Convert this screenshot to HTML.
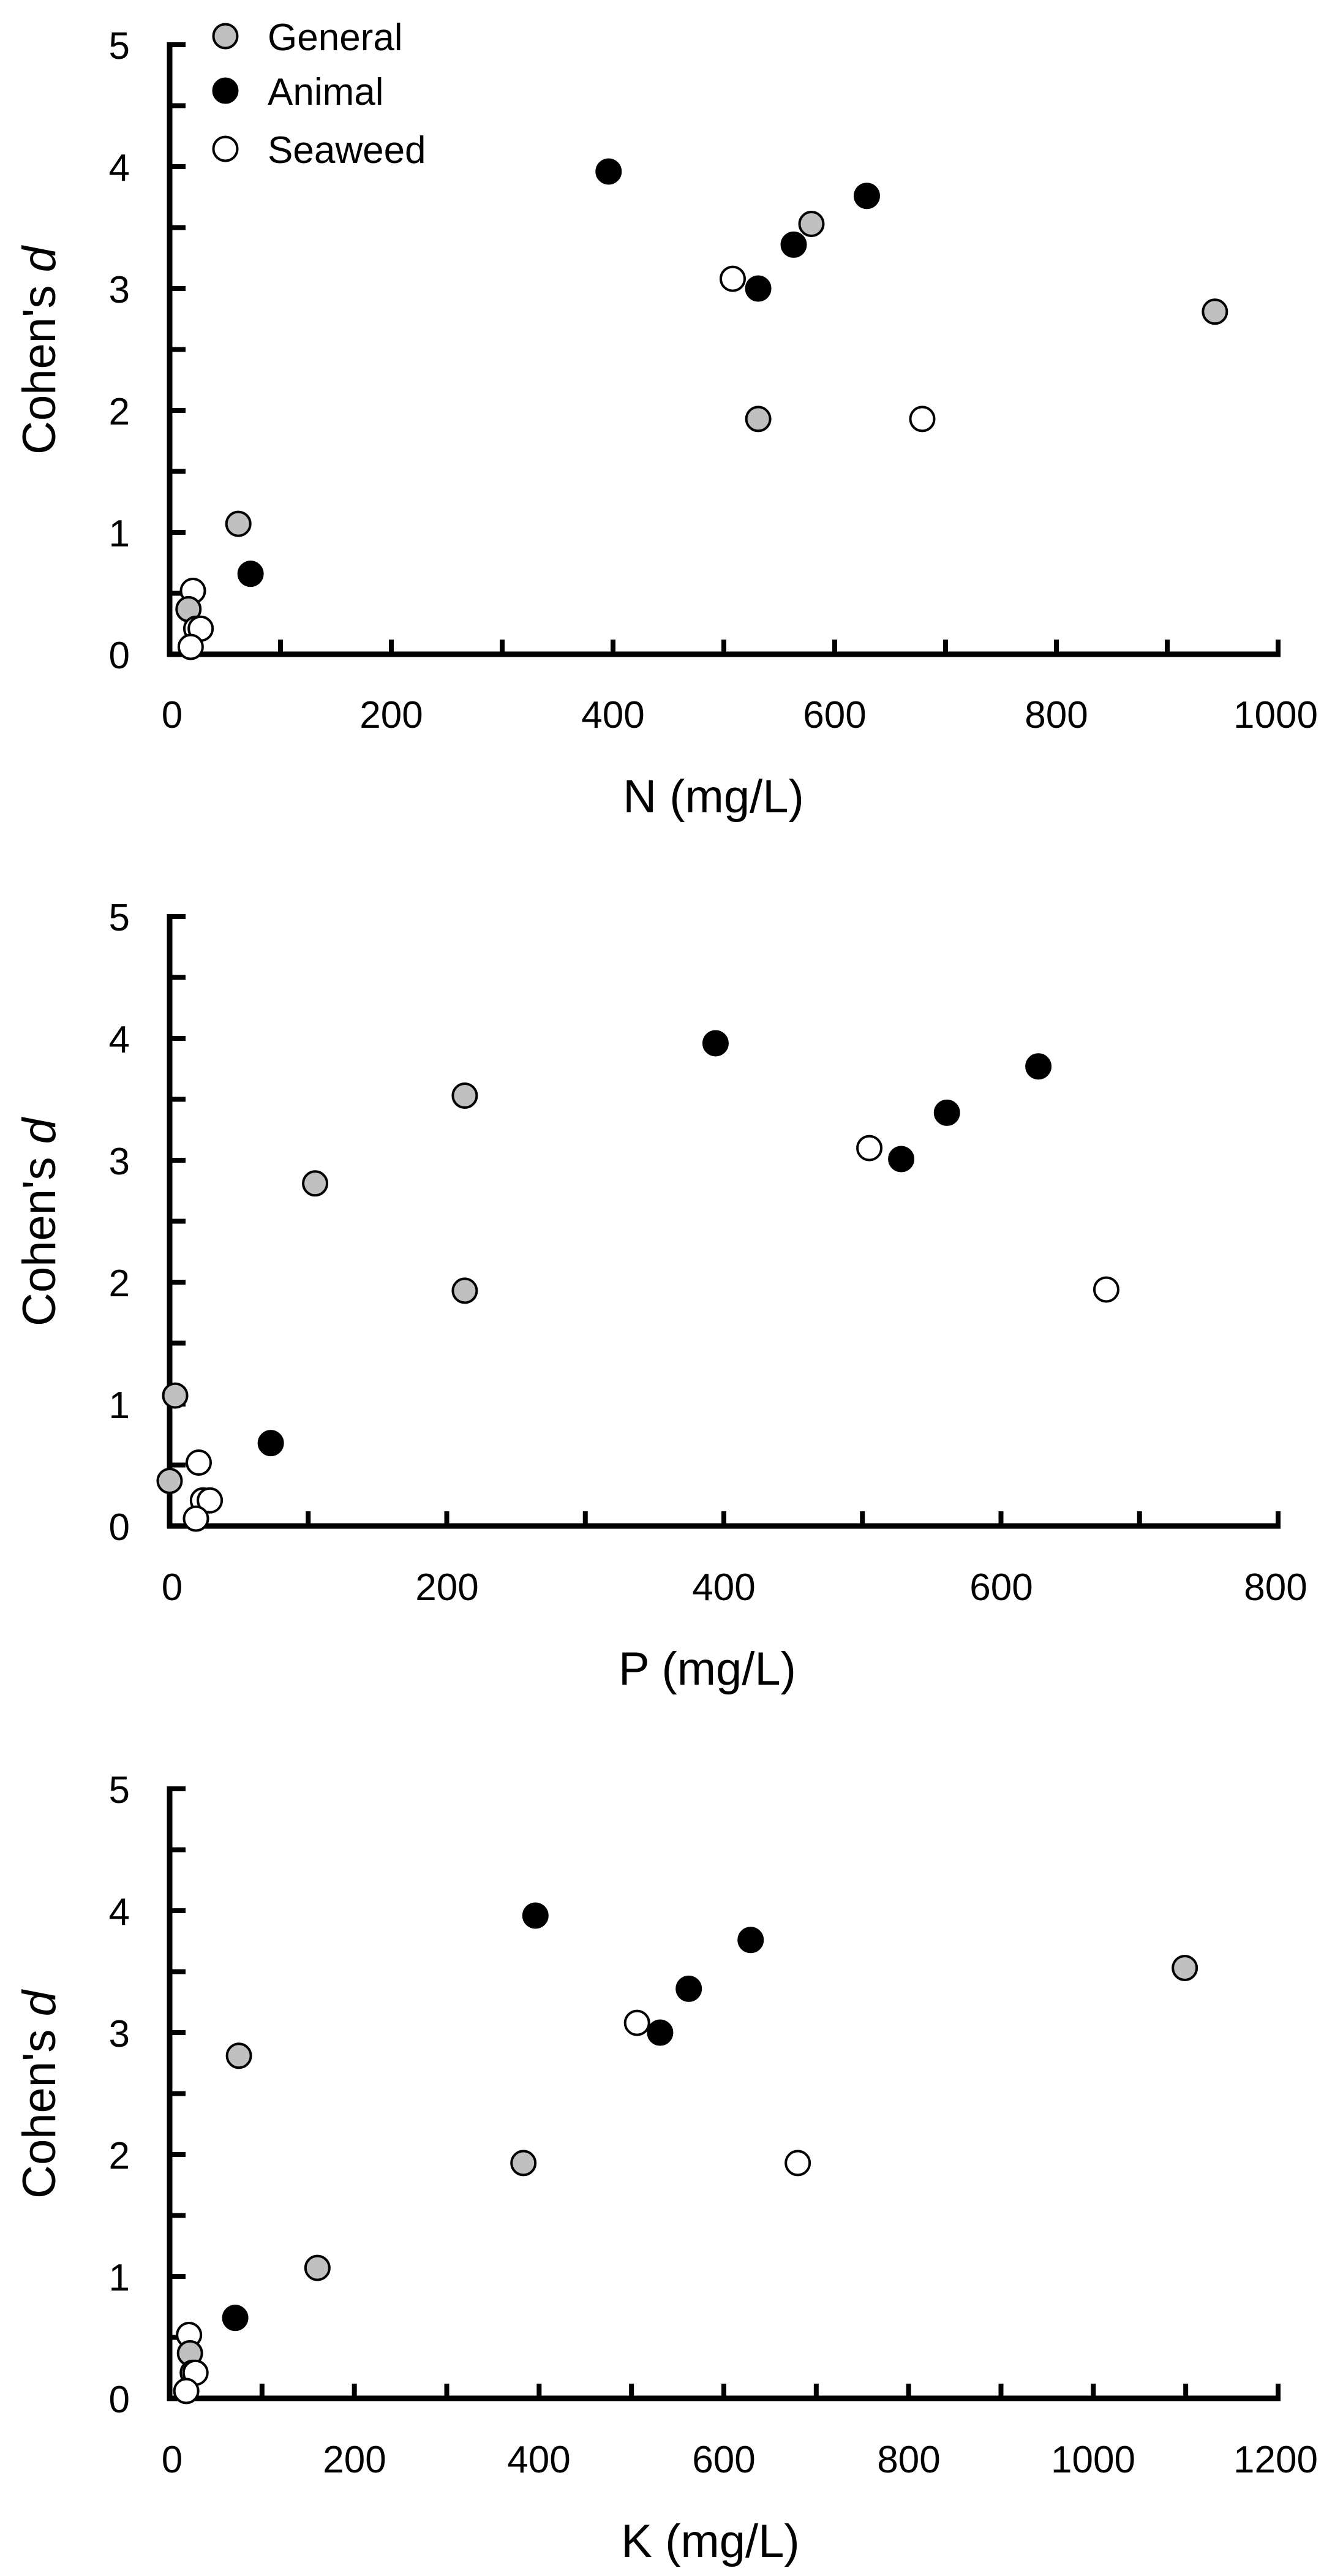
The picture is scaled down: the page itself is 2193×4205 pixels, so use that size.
<!DOCTYPE html>
<html><head><meta charset="utf-8"><style>
html,body{margin:0;padding:0;background:#fff;}
svg{display:block;}
text{font-family:"Liberation Sans",sans-serif;fill:#000;}
.t{font-size:62px;}
.a{font-size:76px;}
</style></head><body>
<svg id="s" width="2193" height="4205" viewBox="0 0 2193 4205" xmlns="http://www.w3.org/2000/svg">
<rect width="2193" height="4205" fill="#fff"/>
<g id="g"></g>
<g class="t" text-anchor="end">
<text x="212" y="96">5</text><text x="212" y="295">4</text><text x="212" y="494">3</text><text x="212" y="693">2</text><text x="212" y="892">1</text><text x="212" y="1091">0</text>
<text x="212" y="1519">5</text><text x="212" y="1718">4</text><text x="212" y="1917">3</text><text x="212" y="2116">2</text><text x="212" y="2315">1</text><text x="212" y="2514">0</text>
<text x="212" y="2943">5</text><text x="212" y="3142">4</text><text x="212" y="3341">3</text><text x="212" y="3540">2</text><text x="212" y="3739">1</text><text x="212" y="3938">0</text>
</g>
<g class="t" text-anchor="middle">
<text x="281" y="1188">0</text><text x="639" y="1188">200</text><text x="1001" y="1188">400</text><text x="1363" y="1188">600</text><text x="1725" y="1188">800</text><text x="2083" y="1188">1000</text>
<text x="281" y="2612">0</text><text x="730" y="2612">200</text><text x="1182" y="2612">400</text><text x="1635" y="2612">600</text><text x="2083" y="2612">800</text>
<text x="281" y="4036">0</text><text x="579" y="4036">200</text><text x="880" y="4036">400</text><text x="1182" y="4036">600</text><text x="1484" y="4036">800</text><text x="1785" y="4036">1000</text><text x="2083" y="4036">1200</text>
</g>
<g class="a" text-anchor="middle">
<text x="1165" y="1326">N (mg/L)</text>
<text x="1155" y="2750">P (mg/L)</text>
<text x="1160" y="4174">K (mg/L)</text>
<text transform="translate(90,572) rotate(-90)">Cohen's <tspan font-style="italic">d</tspan></text>
<text transform="translate(90,1995) rotate(-90)">Cohen's <tspan font-style="italic">d</tspan></text>
<text transform="translate(90,3419) rotate(-90)">Cohen's <tspan font-style="italic">d</tspan></text>
</g>
<g class="t">
<text x="437" y="82">General</text>
<text x="437" y="171">Animal</text>
<text x="437" y="266">Seaweed</text>
</g>
</svg>
<script>
(function(){
var NS="http://www.w3.org/2000/svg",g=document.getElementById('g');
function el(n,a){var e=document.createElementNS(NS,n);for(var k in a)e.setAttribute(k,a[k]);g.appendChild(e);return e;}
var X0=277,X1=2087,U=199;
var tops=[73,1496,2920],maxs=[1000,800,1200];
var G='#c0c0c0',A='#000',S='#fff';
var data=[
[[A,396,3.96],[A,629,3.76],[G,579,3.53],[A,563,3.36],[S,508,3.08],[A,531,3.00],[G,943,2.81],[G,531,1.93],[S,679,1.93],[G,62,1.07],[A,73,0.66],[S,21,0.52],[G,17,0.37],[S,24,0.21],[S,28,0.21],[S,19,0.06]],
[[A,394,3.96],[A,627,3.77],[G,213,3.53],[A,561,3.39],[S,505,3.10],[A,528,3.01],[G,105,2.81],[G,213,1.93],[S,676,1.94],[G,4,1.07],[A,73,0.68],[S,21,0.52],[G,0,0.37],[S,24,0.21],[S,29,0.21],[S,19,0.06]],
[[A,396,3.96],[A,629,3.76],[G,1099,3.53],[A,562,3.36],[S,506,3.08],[A,531,3.00],[G,75,2.81],[G,383,1.93],[S,680,1.93],[G,160,1.07],[A,71,0.66],[S,21,0.52],[G,22,0.37],[S,25,0.21],[S,28,0.21],[S,18,0.06]]
];
for(var p=0;p<3;p++){
 var t=tops[p],y0=t+5*U,m=maxs[p];
 el('line',{x1:X0,y1:t-4,x2:X0,y2:y0+4,stroke:'#000','stroke-width':9});
 el('line',{x1:X0-4,y1:y0,x2:X1+4,y2:y0,stroke:'#000','stroke-width':9});
 for(var i=0;i<=10;i++){var yy=t+i*U/2;el('line',{x1:X0,y1:yy,x2:X0+26,y2:yy,stroke:'#000','stroke-width':8});}
 for(var v=100;v<=m;v+=100){var xx=X0+v*(X1-X0)/m;el('line',{x1:xx,y1:y0,x2:xx,y2:y0-24,stroke:'#000','stroke-width':8});}
 data[p].forEach(function(d){
  el('circle',{cx:X0+d[1]*(X1-X0)/m,cy:t+(5-d[2])*U,r:19.5,fill:d[0],stroke:'#000','stroke-width':4});
 });
}
[[G,59],[A,148],[S,243]].forEach(function(d){el('circle',{cx:368,cy:d[1],r:19.5,fill:d[0],stroke:'#000','stroke-width':4});});
})();
</script>
</body></html>
